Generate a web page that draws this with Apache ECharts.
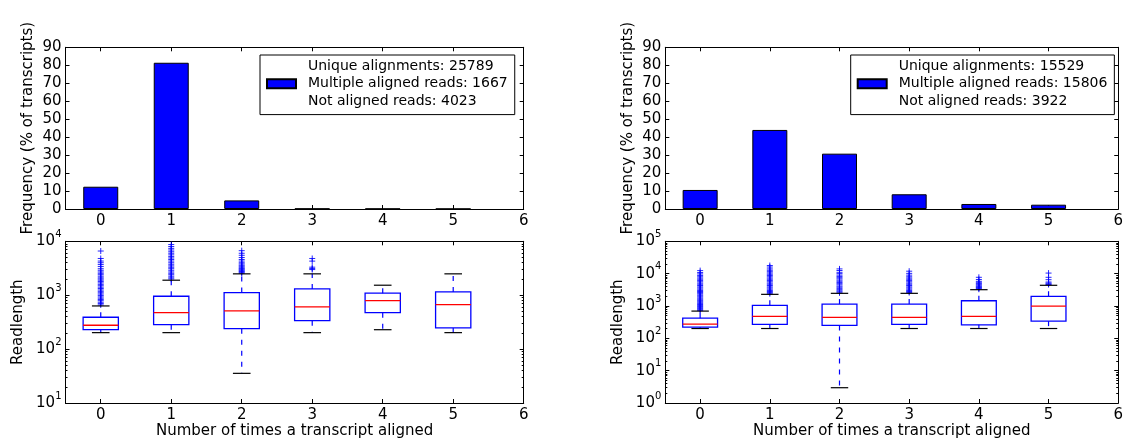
<!DOCTYPE html>
<html><head><meta charset="utf-8">
<script src="https://cdn.jsdelivr.net/npm/echarts@6/dist/echarts.min.js"></script>
<style>html,body{margin:0;padding:0;background:#fff}#c{width:1126px;height:440px}</style>
</head><body><div id="c"></div>
<script>
// ---------- data ----------
const categories = [0, 1, 2, 3, 4, 5];
const xTicks = [0, 1, 2, 3, 4, 5, 6];
const freqTicks = [0, 10, 20, 30, 40, 50, 60, 70, 80, 90];
const freqLeft = [12.4, 81.4, 4.8, 0.2, 0.15, 0.1];
const freqRight = [10.6, 44.0, 30.8, 8.2, 2.8, 2.4];
const legendLeft = ['Unique alignments: 25789', 'Multiple aligned reads: 1667', 'Not aligned reads: 4023'];
const legendRight = ['Unique alignments: 15529', 'Multiple aligned reads: 15806', 'Not aligned reads: 3922'];
// box stats: [min, q1, median, q3, max]
const boxLeft = [
  [202, 229, 277, 390, 632],
  [202, 284, 475, 957, 1898],
  [35.5, 239, 510, 1119, 2490],
  [202, 337, 606, 1310, 2490],
  [229, 475, 794, 1089, 1532],
  [202, 247, 668, 1151, 2490]
];
const boxRight = [
  [201, 221, 274, 421, 695],
  [201, 268, 475, 1045, 2290],
  [2.97, 250, 443, 1145, 2460],
  [201, 270, 443, 1145, 2460],
  [201, 261, 475, 1450, 3190],
  [201, 340, 993, 1990, 4360]
];
const outliersLeft = [
  [660, 700, 740, 790, 830, 880, 930, 990, 1050, 1110, 1180, 1250, 1330, 1410, 1500, 1590, 1690, 1790, 1900, 2000, 2100, 2250, 2400, 2550, 2700, 2900, 3100, 3400, 3700, 4000, 4300, 4800, 6600],
  [2000, 2100, 2250, 2400, 2550, 2700, 2900, 3100, 3300, 3500, 3750, 4000, 4300, 4600, 4900, 5200, 5600, 6000, 6400, 6900, 7400, 8000, 8700],
  [2550, 2650, 2750, 2850, 2950, 3050, 3150, 3300, 3450, 3600, 3800, 4000, 4300, 4600, 5000, 5500, 6000, 6700],
  [2990, 3120, 3310, 4290, 4800],
  [],
  []
];
const outliersRight = [
  [720, 770, 830, 890, 960, 1030, 1110, 1200, 1300, 1400, 1500, 1620, 1750, 1900, 2050, 2200, 2400, 2600, 2800, 3000, 3300, 3600, 3900, 4300, 4700, 5100, 5600, 6100, 6700, 7300, 8000, 8800, 9800, 10800, 12400],
  [2400, 2600, 2800, 3000, 3300, 3600, 3900, 4300, 4700, 5100, 5600, 6100, 6700, 7300, 8000, 8800, 9600, 10500, 11500, 12700, 14000, 16000, 17800],
  [2550, 2750, 2950, 3200, 3500, 3800, 4100, 4500, 4900, 5300, 5800, 6300, 6900, 7500, 8200, 9000, 10000, 11000, 12500, 14000],
  [2600, 2800, 3000, 3300, 3600, 3900, 4300, 4700, 5100, 5600, 6100, 6700, 7300, 8000, 9000, 10200, 11900],
  [3300, 3500, 3700, 3900, 4100, 4400, 4700, 5000, 5400, 5800, 6600, 7700],
  [4600, 4800, 5100, 5500, 6500, 7700, 10400]
];
const logTicksLeft = [10, 100, 1000, 10000];
const logTicksRight = [1, 10, 100, 1000, 10000, 100000];
const xName = 'Number of times a transcript aligned';
const freqName = 'Frequency (% of transcripts)';
const lenName = 'Readlength';

// ---------- helpers ----------
function minorTicks(decades) {
  const out = [];
  for (let i = 0; i < decades.length - 1; i++) for (let k = 2; k <= 9; k++) out.push(decades[i] * k);
  return out;
}
const FONT = 'DejaVu Sans';
const grids = [
  {left: 65.5, top: 47.3, width: 458.2, height: 161.7},
  {left: 65.5, top: 241.3, width: 458.2, height: 161.7},
  {left: 665.3, top: 47.3, width: 455, height: 161.7},
  {left: 665.3, top: 241.3, width: 455, height: 161.7}
];
const xAxes = [], yAxes = [];
function addX(g, withName) {
  xAxes.push({
    type: 'value', gridIndex: g, min: -0.5, max: 6, position: 'bottom',
    axisLine: {show: true, onZero: false, lineStyle: {color: '#000', width: 1}},
    axisTick: {show: true, inside: true, length: 4, customValues: xTicks, lineStyle: {color: '#000'}},
    axisLabel: {show: true, customValues: xTicks, margin: 5, fontSize: 15, fontFamily: FONT, color: '#000'},
    splitLine: {show: false},
    name: withName ? xName : '', nameLocation: 'middle', nameGap: 19,
    nameTextStyle: {fontSize: 15, fontFamily: FONT, color: '#000'}
  });
  xAxes.push({
    type: 'value', gridIndex: g, min: -0.5, max: 6, position: 'top',
    axisLine: {show: true, onZero: false, lineStyle: {color: '#000', width: 1}},
    axisTick: {show: true, inside: true, length: 4, customValues: xTicks, lineStyle: {color: '#000'}},
    axisLabel: {show: false}, splitLine: {show: false}
  });
}
function addYFreq(g) {
  yAxes.push({
    type: 'value', gridIndex: g, min: 0, max: 90, interval: 10, position: 'left',
    axisLine: {show: true, onZero: false, lineStyle: {color: '#000'}},
    axisTick: {show: true, inside: true, length: 4, customValues: freqTicks, lineStyle: {color: '#000'}},
    axisLabel: {customValues: freqTicks, margin: 4, fontSize: 15, fontFamily: FONT, color: '#000'},
    splitLine: {show: false},
    name: freqName, nameLocation: 'middle', nameRotate: 90, nameGap: 30,
    nameTextStyle: {fontSize: 15, fontFamily: FONT, color: '#000'}
  });
  yAxes.push({
    type: 'value', gridIndex: g, min: 0, max: 90, interval: 10, position: 'right',
    axisLine: {show: true, onZero: false, lineStyle: {color: '#000'}},
    axisTick: {show: true, inside: true, length: 4, customValues: freqTicks, lineStyle: {color: '#000'}},
    axisLabel: {show: false}, splitLine: {show: false}
  });
}
function logLabel(v) {
  const e = Math.round(Math.log10(v));
  return '{b|10}{s|' + e + '}';
}
function addYLog(g, ticks) {
  const mn = ticks[0], mx = ticks[ticks.length - 1];
  const minors = minorTicks(ticks);
  const common = {type: 'log', logBase: 10, gridIndex: g, min: mn, max: mx, splitLine: {show: false}};
  yAxes.push(Object.assign({}, common, {
    position: 'left',
    axisLine: {show: true, onZero: false, lineStyle: {color: '#000'}},
    axisTick: {show: true, inside: true, length: 4, customValues: ticks, lineStyle: {color: '#000'}},
    axisLabel: {customValues: ticks, margin: 4, formatter: logLabel,
      rich: {b: {fontSize: 15, fontFamily: FONT, color: '#000'},
             s: {fontSize: 10, fontFamily: FONT, color: '#000', padding: [0, 0, 14, 0]}}},
    name: lenName, nameLocation: 'middle', nameRotate: 90, nameGap: 40,
    nameTextStyle: {fontSize: 15, fontFamily: FONT, color: '#000'}
  }));
  yAxes.push(Object.assign({}, common, {
    position: 'right',
    axisLine: {show: true, onZero: false, lineStyle: {color: '#000'}},
    axisTick: {show: true, inside: true, length: 4, customValues: ticks, lineStyle: {color: '#000'}},
    axisLabel: {show: false}
  }));
  yAxes.push(Object.assign({}, common, {
    position: 'left', axisLine: {show: false, onZero: false},
    axisTick: {show: true, inside: true, length: 2, customValues: minors, lineStyle: {color: '#000'}},
    axisLabel: {show: false}
  }));
  yAxes.push(Object.assign({}, common, {
    position: 'right', axisLine: {show: false, onZero: false},
    axisTick: {show: true, inside: true, length: 2, customValues: minors, lineStyle: {color: '#000'}},
    axisLabel: {show: false}
  }));
}
// grid 0: top-left, 1: bottom-left, 2: top-right, 3: bottom-right
addX(0, false); addX(1, true); addX(2, false); addX(3, true);
addYFreq(0);              // y 0,1
addYLog(1, logTicksLeft); // y 2..5
addYFreq(2);              // y 6,7
addYLog(3, logTicksRight);// y 8..11

function barSeries(name, vals, xi, yi) {
  return {
    type: 'bar', name: name, xAxisIndex: xi, yAxisIndex: yi,
    data: categories.map((c, i) => [c, vals[i]]),
    barWidth: 35,
    itemStyle: {color: '#0000ff', borderColor: '#000', borderWidth: 1},
    emphasis: {disabled: true}, animation: false
  };
}
function boxRender(params, api) {
  const x = api.value(0);
  const mn = api.value(1), q1 = api.value(2), md = api.value(3), q3 = api.value(4), mx = api.value(5);
  const c = (dx, v) => api.coord([x + dx, v]);
  const a = c(-0.25, q3), b = c(0.25, q1);
  const mL = c(-0.25, md), mR = c(0.25, md);
  const wTop = c(0, mx), wQ3 = c(0, q3), wQ1 = c(0, q1), wBot = c(0, mn);
  const capTL = c(-0.125, mx), capTR = c(0.125, mx), capBL = c(-0.125, mn), capBR = c(0.125, mn);
  const ln = (p1, p2, style) => ({type: 'line', shape: {x1: p1[0], y1: p1[1], x2: p2[0], y2: p2[1]}, style: style});
  const dash = {stroke: '#0000ff', lineWidth: 1.2, lineDash: [5, 6]};
  const cap = {stroke: '#000', lineWidth: 1.2};
  return {type: 'group', children: [
    ln(wQ3, wTop, dash), ln(wQ1, wBot, dash),
    ln(capTL, capTR, cap), ln(capBL, capBR, cap),
    {type: 'rect', shape: {x: a[0], y: a[1], width: b[0] - a[0], height: b[1] - a[1]},
     style: {fill: 'none', stroke: '#0000ff', lineWidth: 1.3}},
    ln(mL, mR, {stroke: '#ff0000', lineWidth: 1.3})
  ]};
}
function boxSeries(stats, xi, yi) {
  return {
    type: 'custom', xAxisIndex: xi, yAxisIndex: yi,
    data: categories.map((c, i) => [c].concat(stats[i])),
    dimensions: ['x', 'min', 'q1', 'med', 'q3', 'max'],
    encode: {x: 0, y: [1, 2, 3, 4, 5]},
    renderItem: boxRender, silent: true, animation: false, z: 3
  };
}
function flierSeries(outs, xi, yi) {
  const data = [];
  categories.forEach((c, i) => outs[i].forEach(v => data.push([c, v])));
  return {
    type: 'scatter', xAxisIndex: xi, yAxisIndex: yi, data: data,
    symbol: 'path://M0,5H10M5,0V10', symbolSize: 6, symbolKeepAspect: true,
    itemStyle: {color: 'transparent', borderColor: '#0000ff', borderWidth: 1, opacity: 0.85},
    silent: true, animation: false, z: 2
  };
}
function legendCfg(name, lines, left) {
  return {
    data: [name], left: left, top: 55, orient: 'vertical',
    formatter: () => lines.join('\n'),
    icon: 'rect', itemWidth: 29, itemHeight: 9,
    borderColor: '#000', borderWidth: 1, borderRadius: 0, backgroundColor: '#fff',
    padding: [3, 7, 5, 6], selectedMode: false,
    textStyle: {fontSize: 14, lineHeight: 17.2, fontFamily: FONT, color: '#000', padding: [0, 0, 0, 7]}
  };
}
const nameL = legendLeft[1], nameR = legendRight[1];
const option = {
  animation: false,
  backgroundColor: '#fff',
  textStyle: {fontFamily: FONT},
  grid: grids,
  xAxis: xAxes,
  yAxis: yAxes,
  legend: [legendCfg(nameL, legendLeft, 260), legendCfg(nameR, legendRight, 850.7)],
  series: [
    barSeries(nameL, freqLeft, 0, 0),
    barSeries(nameR, freqRight, 4, 6),
    flierSeries(outliersLeft, 2, 2),
    boxSeries(boxLeft, 2, 2),
    flierSeries(outliersRight, 6, 8),
    boxSeries(boxRight, 6, 8)
  ]
};
const chart = echarts.init(document.getElementById('c'), null, {renderer: 'canvas'});
chart.setOption(option);
</script>
</body></html>
